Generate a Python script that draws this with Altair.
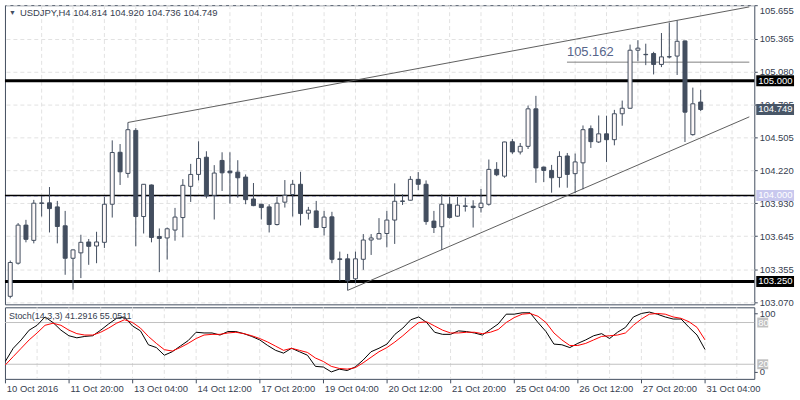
import altair as alt
import pandas as pd

# ---------------- data ----------------
opens = [
    103.120, 103.409, 103.741, 103.608, 103.930, 103.935, 103.900, 103.735, 103.452, 103.499,
    103.594, 103.559, 103.591, 103.923, 104.376, 104.192, 104.567, 103.816, 104.091, 103.642,
    103.629, 103.698, 103.807, 104.079, 104.183, 104.333, 104.001, 104.305, 104.212, 104.203,
    104.160, 103.969, 103.923, 103.900, 103.746, 103.941, 104.008, 104.097, 103.845, 103.865,
    103.720, 103.813, 103.447, 103.447, 103.273, 103.443, 103.611, 103.620, 103.668, 103.785,
    103.947, 103.958, 104.140, 104.097, 103.776, 103.727, 103.923, 103.819, 103.904, 103.906,
    103.894, 103.923, 104.227, 104.168, 104.468, 104.379, 104.428, 104.755, 104.247, 104.218,
    104.157, 104.344, 104.190, 104.284, 104.582, 104.466, 104.537, 104.486, 104.712, 104.760,
    105.266, 105.230, 105.237, 105.142, 105.207, 105.215, 105.347, 104.530, 104.814]
highs = [
    103.432, 103.759, 103.787, 103.961, 103.995, 104.073, 103.952, 103.865, 103.527, 103.657,
    103.620, 103.683, 103.987, 104.480, 104.448, 104.636, 104.587, 104.099, 104.095, 103.712,
    103.720, 103.891, 104.142, 104.275, 104.472, 104.385, 104.264, 104.376, 104.376, 104.307,
    104.183, 104.108, 103.926, 103.923, 103.987, 104.134, 104.134, 104.206, 103.900, 103.952,
    103.865, 103.857, 103.510, 103.490, 103.510, 103.663, 103.663, 103.802, 103.865, 104.105,
    104.010, 104.168, 104.203, 104.131, 103.865, 104.010, 103.987, 103.987, 103.980, 103.958,
    104.056, 104.313, 104.290, 104.468, 104.491, 104.457, 104.784, 104.868, 104.251, 104.266,
    104.385, 104.370, 104.365, 104.610, 104.610, 104.697, 104.695, 104.746, 104.827, 105.315,
    105.353, 105.323, 105.252, 105.416, 105.506, 105.526, 105.351, 104.940, 104.920]
lows = [
    103.103, 103.397, 103.591, 103.582, 103.816, 103.677, 103.582, 103.308, 103.178, 103.279,
    103.395, 103.409, 103.542, 103.807, 104.091, 104.154, 103.556, 103.668, 103.591, 103.331,
    103.441, 103.605, 103.634, 103.943, 104.131, 103.975, 103.790, 104.039, 103.929, 103.980,
    103.923, 103.906, 103.790, 103.677, 103.738, 103.894, 103.816, 103.738, 103.790, 103.718,
    103.651, 103.409, 103.253, 103.172, 103.233, 103.351, 103.481, 103.618, 103.547, 103.577,
    103.917, 103.956, 104.045, 103.744, 103.672, 103.525, 103.798, 103.813, 103.859, 103.720,
    103.851, 103.911, 104.168, 104.154, 104.362, 104.357, 104.405, 104.110, 104.117, 104.024,
    104.069, 104.067, 104.021, 104.053, 104.414, 104.457, 104.292, 104.437, 104.608, 104.758,
    105.171, 105.136, 105.055, 105.119, 105.194, 105.050, 104.466, 104.521, 104.736]
closes = [
    103.415, 103.741, 103.617, 103.932, 103.935, 103.885, 103.729, 103.452, 103.525, 103.591,
    103.556, 103.594, 103.923, 104.374, 104.206, 104.573, 103.816, 104.097, 103.634, 103.625,
    103.709, 103.811, 104.088, 104.183, 104.322, 103.995, 104.195, 104.197, 104.197, 104.154,
    103.963, 103.911, 103.894, 103.746, 103.932, 104.001, 104.097, 103.842, 103.871, 103.720,
    103.811, 103.443, 103.441, 103.256, 103.447, 103.611, 103.629, 103.668, 103.785, 103.949,
    103.952, 104.140, 104.097, 103.772, 103.720, 103.923, 103.807, 103.915, 103.909, 103.894,
    103.932, 104.227, 104.180, 104.466, 104.379, 104.428, 104.755, 104.240, 104.218, 104.154,
    104.340, 104.183, 104.292, 104.573, 104.469, 104.537, 104.486, 104.712, 104.760, 105.266,
    105.284, 105.227, 105.142, 105.208, 105.210, 105.344, 104.726, 104.799, 104.749]

stoch_k = [
    24, 43, 55, 69, 76, 88, 80, 69, 61, 58,
    60, 61, 69, 78, 86, 88, 75, 68, 48, 44,
    33, 38, 46, 54, 66, 65, 65, 62, 67, 67,
    64, 60, 55, 47, 40, 36, 43, 38, 33, 17,
    16, 9, 13, 11, 16, 26, 38, 43, 49, 63,
    72, 84, 88, 80, 66, 63, 63, 68, 67, 65,
    62, 70, 78, 92, 92, 94, 94, 80, 67, 49,
    48, 44, 50, 55, 61, 64, 57, 66, 73, 88,
    93, 95, 92, 88, 85, 85, 73, 62, 41.2916]
stoch_d = [
    19, 31, 43, 55, 65, 76, 79, 76, 69, 64,
    62, 62, 66, 72, 79, 84, 80, 72, 60, 50,
    41, 39, 44, 50, 57, 62, 63, 63, 65, 66,
    64, 61, 57, 52, 46, 40, 43, 40, 37, 29,
    24, 17, 14, 13, 15, 22, 30, 38, 44, 52,
    61, 71, 80, 81, 75, 69, 65, 65, 66, 66,
    64, 66, 70, 80, 87, 92, 93, 89, 80, 65,
    55, 47, 47, 50, 55, 60, 61, 62, 65, 76,
    85, 92, 93, 92, 88, 86, 81, 73, 55.0511]

price_ticks = [105.655, 105.365, 105.080, 104.795, 104.505,
               104.220, 103.930, 103.645, 103.355, 103.070]
time_labels = ["10 Oct 2016", "11 Oct 20:00", "13 Oct 04:00", "14 Oct 12:00",
               "17 Oct 20:00", "19 Oct 04:00", "20 Oct 12:00", "21 Oct 20:00",
               "25 Oct 04:00", "26 Oct 12:00", "27 Oct 20:00", "31 Oct 04:00"]
time_tick_idx = [0, 8, 16, 24, 32, 40, 48, 56, 64, 72, 80, 88]
grid_idx = [4, 8, 12, 16, 20, 24, 28, 32, 36, 40, 44, 48, 52, 56, 60, 64,
            68, 72, 76, 80, 84, 88, 92]

levels = [105.000, 104.000, 103.250]
level_widths = [3, 1.5, 3]
lav_level = [103.992]
marked_level = 105.162
trend_i = [15, 94.2, 43, 94.2]
trend_p = [104.636, 105.644, 103.172, 104.685]
trend_g = ["up", "up", "lo", "lo"]
hl_i = [70.96, 94.2]

tag_prices = [105.000, closes[-1], 104.000, 103.250]
tag_colors = ["#000000", "#485667", "#c8c8ee", "#000000"]

stoch_levels = [80, 20]

# ---------------- styling ----------------
DARK = "#434e5f"
LIGHT = "#fdf8f8"
TEXTC = "#36404f"
GRID = "#e2e2e2"
FONT = "Liberation Sans"

X_MIN, X_MAX = -0.04, 94.2
P_MIN, P_MAX = 103.0503, 105.6586
W, H_MAIN, H_STOCH = 754, 301, 72

n = len(opens)
candles = pd.DataFrame({"i": list(range(n)), "o": opens, "h": highs, "l": lows, "c": closes})
stoch = pd.DataFrame({"i": list(range(n)), "k": stoch_k, "d": stoch_d})

xscale = alt.Scale(domain=[X_MIN, X_MAX], nice=False, zero=False)
pscale = alt.Scale(domain=[P_MIN, P_MAX], nice=False, zero=False)
paxis = alt.Axis(orient="right", values=price_ticks, format=".3f", title=None,
                 grid=True, gridDash=[4, 3], gridColor=GRID, tickSize=3,
                 tickColor=DARK, domain=False, labelFontSize=9.5, labelPadding=2,
                 labelColor=TEXTC, labelFont=FONT, labelOverlap=False, labelFlush=2)


def XM(field="i:Q"):
    return alt.X(field, scale=xscale, axis=None)


def P(field):
    return alt.Y(field, scale=pscale, axis=paxis)


vgrid = alt.Chart(pd.DataFrame({"g": grid_idx})).mark_rule(
    color=GRID, strokeDash=[4, 3]).encode(x=XM("g:Q"))

hl = alt.Chart(pd.DataFrame({"p": levels, "w": level_widths})).mark_rule(
    color="#000000").encode(y=P("p:Q"), strokeWidth=alt.StrokeWidth("w:Q", scale=None))

lav = alt.Chart(pd.DataFrame({"p": lav_level})).mark_rule(
    color="#c8c8ee", strokeDash=[4, 3]).encode(y=P("p:Q"))

trend = alt.Chart(pd.DataFrame({"i": trend_i, "p": trend_p, "g": trend_g})).mark_line(
    color="#5e5e5e", strokeWidth=1, clip=True).encode(x=XM(), y=P("p:Q"), detail="g:N")

mline = alt.Chart(pd.DataFrame({"i": hl_i, "p": [marked_level, marked_level]})).mark_line(
    color="#808080", strokeWidth=1, clip=True).encode(x=XM(), y=P("p:Q"))

mtext = alt.Chart(pd.DataFrame({"i": [hl_i[0]], "p": [marked_level]})).mark_text(
    align="left", baseline="bottom", dy=-3, fontSize=13, font=FONT, color="#56658a"
).encode(x=XM(), y=P("p:Q"), text=alt.Text("p:Q", format=".3f"))

wicks = alt.Chart(candles).mark_rule(color=DARK, strokeWidth=1, clip=True).encode(
    x=XM(), y=P("l:Q"), y2="h:Q")

bodies = alt.Chart(candles).mark_bar(size=4, stroke=DARK, strokeWidth=1, clip=True).encode(
    x=XM(), y=P("o:Q"), y2="c:Q",
    fill=alt.condition("datum.c < datum.o", alt.value(DARK), alt.value(LIGHT)))

tags_df = pd.DataFrame({"p": tag_prices, "bg": tag_colors})
tag_box = alt.Chart(tags_df).mark_rule(strokeWidth=11, strokeCap="butt").encode(
    x=alt.value(W + 2), x2=alt.value(W + 40), y=P("p:Q"),
    color=alt.Color("bg:N", scale=None))
tag_txt = alt.Chart(tags_df).mark_text(
    align="left", baseline="middle", color="white", fontSize=9.5, font=FONT).encode(
    x=alt.value(W + 4), y=P("p:Q"), text=alt.Text("p:Q", format=".3f"))

title_str = "USDJPY,H4  %.3f %.3f %.3f %.3f" % (opens[-1], highs[-1], lows[-1], closes[-1])
tri = alt.Chart(pd.DataFrame({"t": ["\u25bc"]})).mark_text(
    align="left", baseline="middle", fontSize=7, color=DARK).encode(
    x=alt.value(4), y=alt.value(8), text="t:N")
title = alt.Chart(pd.DataFrame({"t": [title_str]})).mark_text(
    align="left", baseline="middle", fontSize=9.5, font=FONT, color=TEXTC).encode(
    x=alt.value(15), y=alt.value(8), text="t:N")

main = alt.layer(vgrid, lav, hl, mline, mtext, trend, wicks, bodies,
                 tag_box, tag_txt, tri, title).properties(width=W, height=H_MAIN)

# ---------------- stochastic panel ----------------
sscale = alt.Scale(domain=[-1.0, 101.86], nice=False, zero=False)
label_expr = "[" + ",".join("'%s'" % s for s in time_labels) + "][round(datum.value/8)]"
sxaxis = alt.Axis(orient="bottom", values=time_tick_idx, labelExpr=label_expr,
                  labelAlign="left", labelOffset=1, tickSize=4, tickColor=DARK,
                  labelPadding=1, domain=False, grid=False, labelFontSize=9.5,
                  labelFont=FONT, labelColor=TEXTC, title=None, labelOverlap=False)
syaxis = alt.Axis(orient="right", values=[93, 9.5],
                  labelExpr="datum.value > 50 ? '100' : '0'", title=None, grid=False,
                  domain=False, tickSize=3, tickColor=DARK, labelFontSize=9.5,
                  labelFont=FONT, labelColor=TEXTC, labelPadding=2)


def XS(field="i:Q"):
    return alt.X(field, scale=xscale, axis=sxaxis)


def S(field):
    return alt.Y(field, scale=sscale, axis=syaxis)


svgrid = alt.Chart(pd.DataFrame({"g": grid_idx})).mark_rule(
    color=GRID, strokeDash=[4, 3]).encode(x=XS("g:Q"))
slev = alt.Chart(pd.DataFrame({"v": stoch_levels})).mark_rule(
    color="#c0c0c0", strokeWidth=1).encode(y=S("v:Q"))
kline = alt.Chart(stoch).mark_line(color="#000000", strokeWidth=1, clip=True).encode(
    x=XS(), y=S("k:Q"))
dline = alt.Chart(stoch).mark_line(color="#ff0000", strokeWidth=1, clip=True).encode(
    x=XS(), y=S("d:Q"))
stitle = alt.Chart(pd.DataFrame(
    {"t": ["Stoch(14,3,3) %.4f %.4f" % (stoch_k[-1], stoch_d[-1])]})).mark_text(
    align="left", baseline="middle", fontSize=9, font=FONT, color=TEXTC).encode(
    x=alt.value(4), y=alt.value(9), text="t:N")
lev_df = pd.DataFrame({"v": stoch_levels})
lev_box = alt.Chart(lev_df).mark_rule(strokeWidth=10, strokeCap="butt", color="#c0c0c0").encode(
    x=alt.value(W + 3), x2=alt.value(W + 14), y=S("v:Q"))
lev_txt = alt.Chart(lev_df).mark_text(
    align="left", baseline="middle", color="white", fontSize=9.5, font=FONT).encode(
    x=alt.value(W + 4), y=S("v:Q"), text=alt.Text("v:Q", format="d"))

stoch_chart = alt.layer(svgrid, slev, kline, dline, stitle, lev_box, lev_txt).properties(
    width=W, height=H_STOCH)

chart = alt.vconcat(main, stoch_chart, spacing=3, bounds="flush").properties(
    padding={"left": 3, "top": 3, "right": 0, "bottom": 0},
    background="white",
).configure_view(stroke=DARK, strokeWidth=1)

chart.save("out.html", embed_options={"renderer": "svg", "actions": False})
